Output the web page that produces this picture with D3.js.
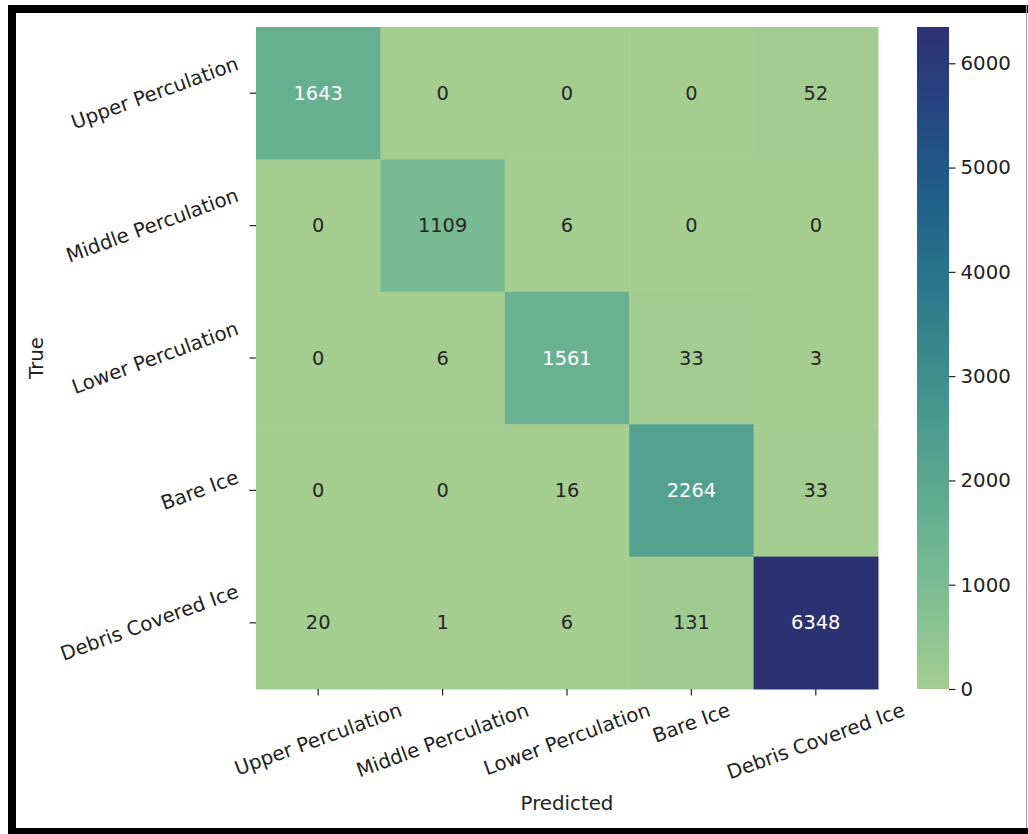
<html lang="en">
<head>
    <meta charset="UTF-8">
    <title>Confusion matrix</title>
    <script src="https://d3js.org/d3.v7.min.js"></script>
    <style>
        body { margin: 0; background: #fff; }
        text { font-family: "DejaVu Sans", sans-serif; }
    </style>
</head>
<body>
    <div id="chart"></div>
    <script>
        // classes (same order for true and predicted)
        var classes = ["Upper Perculation", "Middle Perculation", "Lower Perculation", "Bare Ice", "Debris Covered Ice"];

        // one array per true class, values per predicted class
        var upperRow  = [1643, 0, 0, 0, 52];
        var middleRow = [0, 1109, 6, 0, 0];
        var lowerRow  = [0, 6, 1561, 33, 3];
        var bareRow   = [0, 0, 16, 2264, 33];
        var debrisRow = [20, 1, 6, 131, 6348];

        var cbarTicks = [0, 1000, 2000, 3000, 4000, 5000, 6000];

        // approximation of seaborn "crest"
        var crestStops  = [0, 0.1, 0.2, 0.3, 0.4, 0.5, 0.6, 0.7, 0.8, 0.9, 1];
        var crestColors = ["#a5cd90", "#88c291", "#72b792", "#5ea98f", "#4a9a8e", "#3a8a8c",
                           "#2c798b", "#22688a", "#215587", "#28427f", "#2c3172"];

        var width = 1028, height = 834;
        var fontSize = 19.4, labelSize = 19.8, rot = 20, rad = rot * Math.PI / 180;
        var hmLeft = 256, hmRight = 878, hmTop = 27, hmBottom = 689;
        var cbLeft = 917, cbRight = 949;

        var rows = [upperRow, middleRow, lowerRow, bareRow, debrisRow];
        var cells = [];
        rows.forEach(function(r, i) {
            r.forEach(function(v, j) {
                cells.push({ t: classes[i], p: classes[j], value: v });
            });
        });

        var vmax = d3.max(cells, function(d) { return d.value; });

        var svg = d3.select("#chart").append("svg")
            .attr("width", width)
            .attr("height", height);

        svg.append("rect").attr("width", width).attr("height", height).attr("fill", "#fff");

        var xScale = d3.scaleBand().domain(classes).range([hmLeft, hmRight]);
        var yScale = d3.scaleBand().domain(classes).range([hmTop, hmBottom]);
        var colorScale = d3.scaleLinear()
            .domain(crestStops.map(function(t) { return t * vmax; }))
            .range(crestColors)
            .interpolate(d3.interpolateRgb);

        function luminance(c) {
            var rgb = d3.rgb(c);
            var f = function(v) {
                v = v / 255;
                return v <= 0.03928 ? v / 12.92 : Math.pow((v + 0.055) / 1.055, 2.4);
            };
            return 0.2126 * f(rgb.r) + 0.7152 * f(rgb.g) + 0.0722 * f(rgb.b);
        }

        // cells
        svg.selectAll(".cell")
            .data(cells)
            .enter()
            .append("rect")
            .attr("class", "cell")
            .attr("x", function(d) { return xScale(d.p); })
            .attr("y", function(d) { return yScale(d.t); })
            .attr("width", xScale.bandwidth() + 0.5)
            .attr("height", yScale.bandwidth() + 0.5)
            .attr("fill", function(d) { return colorScale(d.value); });

        svg.selectAll(".annot")
            .data(cells)
            .enter()
            .append("text")
            .attr("class", "annot")
            .attr("x", function(d) { return xScale(d.p) + xScale.bandwidth() / 2; })
            .attr("y", function(d) { return yScale(d.t) + yScale.bandwidth() / 2; })
            .attr("text-anchor", "middle")
            .attr("dominant-baseline", "central")
            .style("font-size", fontSize + "px")
            .attr("fill", function(d) { return luminance(colorScale(d.value)) > 0.408 ? "#262626" : "#ffffff"; })
            .text(function(d) { return d.value; });

        // x axis
        var xAxis = svg.append("g")
            .attr("transform", "translate(0," + hmBottom + ")")
            .call(d3.axisBottom(xScale).tickSize(6.5).tickSizeOuter(0));
        xAxis.select(".domain").remove();
        xAxis.selectAll(".tick line").attr("stroke", "#222").attr("stroke-width", 1.2);
        xAxis.selectAll(".tick text")
            .attr("fill", "#222")
            .style("font-size", labelSize + "px")
            .style("font-family", "DejaVu Sans")
            .each(function() {
                var w = this.getComputedTextLength(), h = labelSize * 1.0;
                var vext = w * Math.sin(rad) + h * Math.cos(rad);
                var cy = 11 + vext / 2;
                d3.select(this)
                    .attr("x", 0).attr("y", cy).attr("dy", null)
                    .attr("text-anchor", "middle")
                    .attr("dominant-baseline", "central")
                    .attr("transform", "rotate(" + (-rot) + ",0," + cy + ")");
            });

        // y axis
        var yAxis = svg.append("g")
            .attr("transform", "translate(" + hmLeft + ",0)")
            .call(d3.axisLeft(yScale).tickSize(6.5).tickSizeOuter(0));
        yAxis.select(".domain").remove();
        yAxis.selectAll(".tick line").attr("stroke", "#222").attr("stroke-width", 1.2);
        yAxis.selectAll(".tick text")
            .attr("fill", "#222")
            .style("font-size", labelSize + "px")
            .style("font-family", "DejaVu Sans")
            .each(function() {
                var w = this.getComputedTextLength(), h = labelSize * 1.0;
                var hext = w * Math.cos(rad) + h * Math.sin(rad);
                var cx = -15 - hext / 2;
                d3.select(this)
                    .attr("x", cx).attr("y", 0).attr("dy", null)
                    .attr("text-anchor", "middle")
                    .attr("dominant-baseline", "central")
                    .attr("transform", "rotate(" + (-rot) + "," + cx + ",0)");
            });

        // axis titles
        svg.append("text")
            .attr("x", (hmLeft + hmRight) / 2)
            .attr("y", 810)
            .attr("text-anchor", "middle")
            .attr("fill", "#222")
            .style("font-size", labelSize + "px")
            .text("Predicted");

        svg.append("text")
            .attr("transform", "translate(43," + (hmTop + hmBottom) / 2 + ") rotate(-90)")
            .attr("text-anchor", "middle")
            .attr("fill", "#222")
            .style("font-size", labelSize + "px")
            .text("True");

        // colorbar
        var cbScale = d3.scaleLinear().domain([0, vmax]).range([hmBottom, hmTop]);
        var grad = svg.append("defs").append("linearGradient")
            .attr("id", "crest")
            .attr("x1", 0).attr("y1", 1).attr("x2", 0).attr("y2", 0);
        grad.selectAll("stop")
            .data(crestStops)
            .enter()
            .append("stop")
            .attr("offset", function(t) { return t; })
            .attr("stop-color", function(t, i) { return crestColors[i]; });

        svg.append("rect")
            .attr("x", cbLeft)
            .attr("y", cbScale(vmax))
            .attr("width", cbRight - cbLeft)
            .attr("height", cbScale(0) - cbScale(vmax))
            .attr("fill", "url(#crest)");

        var cbAxis = svg.append("g")
            .attr("transform", "translate(" + cbRight + ",0)")
            .call(d3.axisRight(cbScale).tickValues(cbarTicks).tickFormat(d3.format("d"))
                .tickSize(6.5).tickPadding(5));
        cbAxis.select(".domain").remove();
        cbAxis.selectAll(".tick line").attr("stroke", "#222").attr("stroke-width", 1.2);
        cbAxis.selectAll(".tick text")
            .attr("fill", "#222")
            .style("font-size", labelSize + "px")
            .style("font-family", "DejaVu Sans");

        // screenshot frame
        svg.append("rect").attr("x", 8).attr("y", 5).attr("width", 8).attr("height", height - 5).attr("fill", "#000");
        svg.append("rect").attr("x", 8).attr("y", 5).attr("width", width - 8).attr("height", 8).attr("fill", "#000");
        svg.append("rect").attr("x", 8).attr("y", 828).attr("width", width - 8).attr("height", 6).attr("fill", "#000");
        svg.append("rect").attr("x", 1026).attr("y", 5).attr("width", 1).attr("height", 823).attr("fill", "#999");
    </script>
</body>
</html>
